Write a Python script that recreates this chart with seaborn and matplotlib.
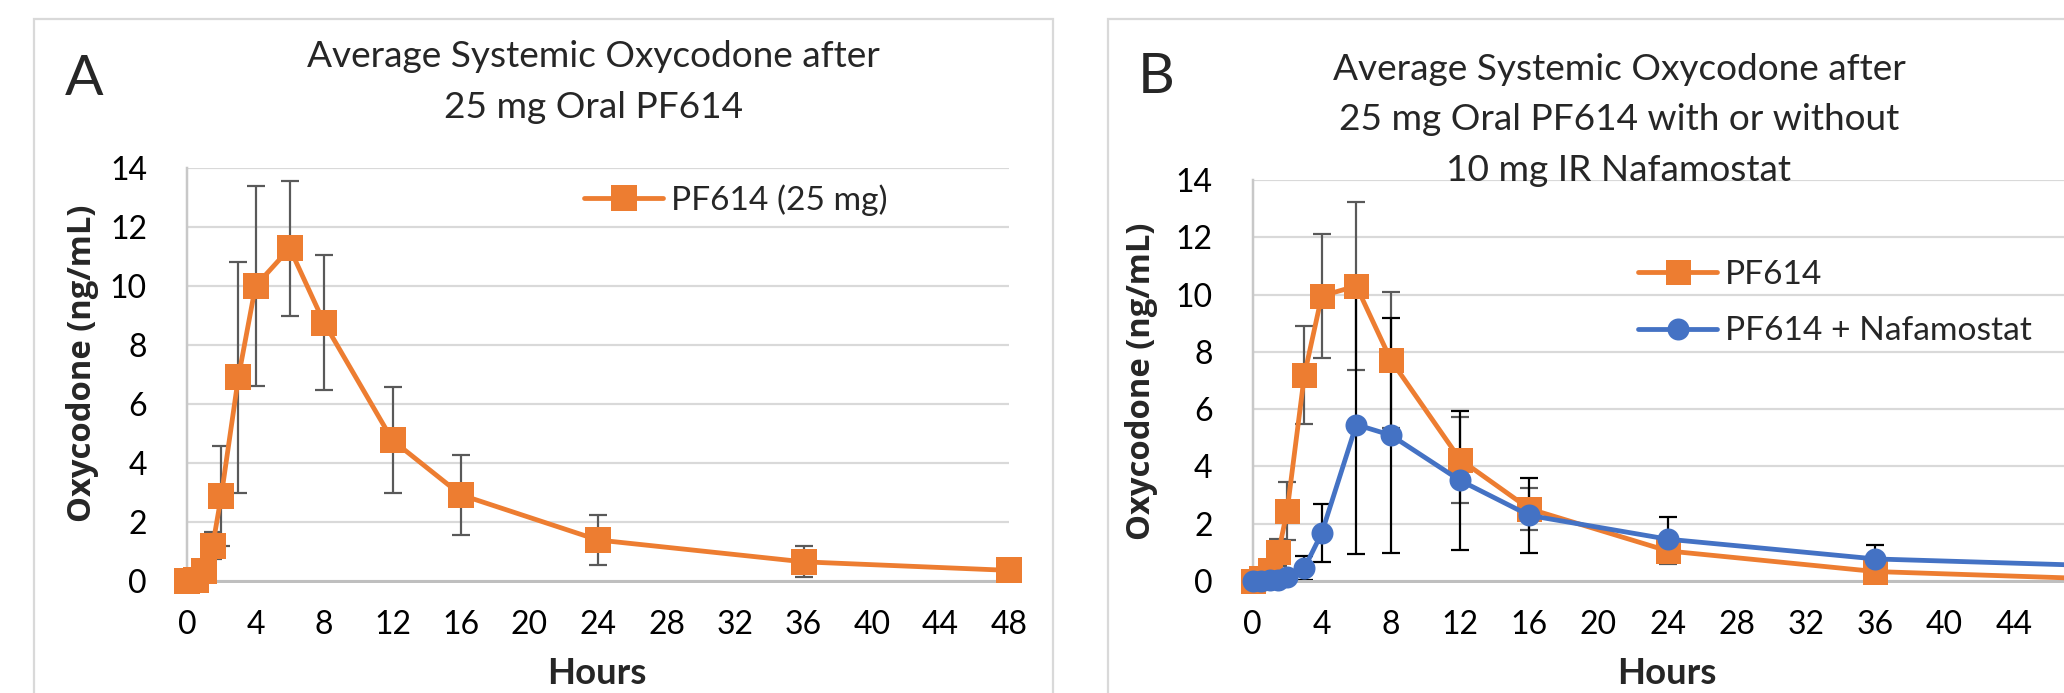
import matplotlib
matplotlib.use("Agg")
import matplotlib.pyplot as plt
import seaborn as sns
import pandas as pd
from matplotlib.patches import Rectangle

# sampling times (hours)
hours = [0, 0.5, 1, 1.5, 2, 3, 4, 6, 8, 12, 16, 24, 36, 48]

# panel A: PF614 (25 mg) alone, mean and SD (ng/mL)
pf614_a_mean = [0, 0.05, 0.35, 1.2, 2.88, 6.9, 10.0, 11.28, 8.76, 4.77, 2.92, 1.39, 0.65, 0.36]
pf614_a_sd = [0, 0.05, 0.2, 0.47, 1.7, 3.9, 3.4, 2.29, 2.28, 1.8, 1.36, 0.84, 0.53, 0.2]

# panel B: PF614 with / without nafamostat
pf614_b_mean = [0, 0.1, 0.37, 1.0, 2.44, 7.19, 9.95, 10.3, 7.71, 4.24, 2.52, 1.05, 0.33, 0.09]
pf614_b_sd = [0, 0.1, 0.3, 0.47, 1.0, 1.7, 2.15, 2.92, 2.37, 1.5, 0.73, 0.45, 0.2, 0.1]
naf_b_mean = [0, 0, 0.02, 0.05, 0.13, 0.45, 1.67, 5.46, 5.09, 3.51, 2.29, 1.46, 0.77, 0.55]
naf_b_sd = [0, 0, 0.02, 0.05, 0.1, 0.43, 1.02, 4.53, 4.1, 2.43, 1.32, 0.77, 0.5, 0.3]

x_ticks = list(range(0, 49, 4))
y_ticks = list(range(0, 15, 2))

df_a = pd.DataFrame({"hours": hours, "mean": pf614_a_mean, "sd": pf614_a_sd})
df_b = pd.DataFrame({"hours": hours, "pf614": pf614_b_mean, "pf614_sd": pf614_b_sd,
                     "naf": naf_b_mean, "naf_sd": naf_b_sd})

sns.set_theme(style="white")
plt.rcParams["font.family"] = ["Lato", "DejaVu Sans"]

orange = "#ED7D31"
blue = "#4472C4"
W, H = 2064, 693
PX = 0.72  # points per pixel at dpi 100

fig = plt.figure(figsize=(W / 100, H / 100), dpi=100)


def fx(px):
    return px / W


def fy(py):
    return 1 - py / H


# chart frames
fig.patches.append(Rectangle((fx(34), fy(720)), fx(1053) - fx(34), fy(19) - fy(720),
                             transform=fig.transFigure, fill=False, ec="#D9D9D9", lw=1.6))
fig.patches.append(Rectangle((fx(1108), fy(720)), fx(2100) - fx(1108), fy(19) - fy(720),
                             transform=fig.transFigure, fill=False, ec="#D9D9D9", lw=1.6))

ax_a = fig.add_axes([fx(187), fy(581), fx(1009) - fx(187), fy(168) - fy(581)])
ax_b = fig.add_axes([fx(1252.5), fy(581), fx(2083) - fx(1252.5), fy(180) - fy(581)])


def style_axis(ax):
    ax.set_xlim(0, 48)
    ax.set_ylim(0, 14)
    ax.set_xticks(x_ticks)
    ax.set_yticks(y_ticks)
    ax.set_axisbelow(True)
    ax.yaxis.grid(True, color="#D9D9D9", lw=2.2 * PX)
    ax.xaxis.grid(False)
    for s in ["top", "right"]:
        ax.spines[s].set_visible(False)
    ax.spines["bottom"].set_color("#BFBFBF")
    ax.spines["bottom"].set_linewidth(3 * PX)
    ax.spines["left"].set_color("#C8C8C8")
    ax.spines["left"].set_linewidth(2.5 * PX)
    ax.tick_params(axis="both", length=0, labelsize=32 * PX, colors="black")
    ax.tick_params(axis="y", pad=40 * PX)
    ax.tick_params(axis="x", pad=29 * PX)
    ax.set_xlabel("")
    ax.set_ylabel("")


err_kw = dict(fmt="none", elinewidth=2.2 * PX, capsize=9 * PX, capthick=2.2 * PX)

# panel A
ax_a.errorbar(df_a["hours"], df_a["mean"], yerr=df_a["sd"], ecolor="#595959", zorder=2, **err_kw)
sns.lineplot(data=df_a, x="hours", y="mean", ax=ax_a, color=orange, lw=4.8 * PX,
             marker="s", markersize=26 * PX, markeredgewidth=0, label="PF614 (25 mg)",
             zorder=4, clip_on=False)
style_axis(ax_a)

# panel B
ax_b.errorbar(df_b["hours"], df_b["pf614"], yerr=df_b["pf614_sd"], ecolor="#595959", zorder=2, **err_kw)
ax_b.errorbar(df_b["hours"], df_b["naf"], yerr=df_b["naf_sd"], ecolor="black", zorder=2.2, **err_kw)
sns.lineplot(data=df_b, x="hours", y="pf614", ax=ax_b, color=orange, lw=4.8 * PX,
             marker="s", markersize=25 * PX, markeredgewidth=0, label="PF614",
             zorder=4, clip_on=False)
sns.lineplot(data=df_b, x="hours", y="naf", ax=ax_b, color=blue, lw=4.8 * PX,
             marker="o", markersize=22 * PX, markeredgewidth=0, label="PF614 + Nafamostat",
             zorder=5, clip_on=False)
style_axis(ax_b)

leg_kw = dict(loc="center left", frameon=False, fontsize=33.5 * PX, handlelength=2.36,
              handletextpad=0.24, borderpad=0, borderaxespad=0, bbox_transform=fig.transFigure)
ax_a.legend(bbox_to_anchor=(fx(584), fy(200)), **leg_kw)
ax_b.legend(bbox_to_anchor=(fx(1638), fy(303)), labelspacing=0.8, **leg_kw)

# titles, panel letters and axis labels
title_kw = dict(ha="center", va="baseline", fontsize=37 * PX)
fig.text(fx(593), fy(66.7), "Average Systemic Oxycodone after", **title_kw)
fig.text(fx(593), fy(118.3), "25 mg Oral PF614", **title_kw)
fig.text(fx(1619), fy(79.5), "Average Systemic Oxycodone after", **title_kw)
fig.text(fx(1619), fy(130.4), "25 mg Oral PF614 with or without", **title_kw)
fig.text(fx(1619), fy(181), "10 mg IR Nafamostat", **title_kw)

fig.text(fx(65), fy(95), "A", ha="left", va="baseline", fontsize=57 * PX)
fig.text(fx(1138), fy(93), "B", ha="left", va="baseline", fontsize=57 * PX)

ylab_kw = dict(rotation=90, ha="center", va="center", fontsize=32.8 * PX,
               fontweight="bold", family=["Open Sans", "DejaVu Sans"])
fig.text(fx(83), fy(363), "Oxycodone (ng/mL)", **ylab_kw)
fig.text(fx(1141), fy(381), "Oxycodone (ng/mL)", **ylab_kw)

xlab_kw = dict(ha="center", va="center", fontsize=36.5 * PX, fontweight="bold")
fig.text(fx(597), fy(674), "Hours", **xlab_kw)
fig.text(fx(1667), fy(674), "Hours", **xlab_kw)

fig.savefig("out.png", dpi=100)
